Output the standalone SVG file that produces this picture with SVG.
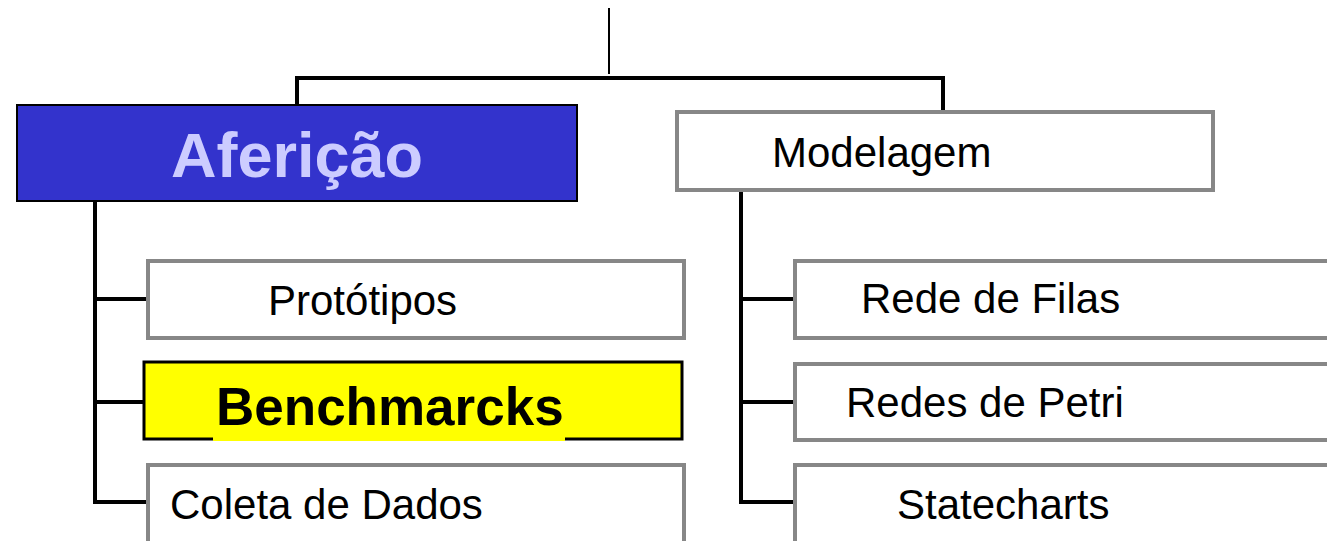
<svg xmlns="http://www.w3.org/2000/svg" width="1327" height="541" viewBox="0 0 1327 541">
<style>
.box{fill:#FFFFFF;stroke:#878787;stroke-width:4}
.t{font-family:"Liberation Sans",Arial,sans-serif;font-size:42px;fill:#000000}
.c{stroke:#000000;stroke-width:4;fill:none;stroke-linecap:square}
</style>
<rect x="0" y="0" width="1327" height="541" fill="#FFFFFF"/>
<g id="connectors">
<line x1="609" y1="8" x2="609" y2="74" stroke="#000" stroke-width="2"/>
<polyline class="c" points="297,104 297,78 943,78 943,111"/>
<polyline class="c" points="95,201 95,502 146,502"/>
<line class="c" x1="95" y1="299" x2="146" y2="299"/>
<line class="c" x1="95" y1="402" x2="143" y2="402"/>
<polyline class="c" points="741,190 741,502 793,502"/>
<line class="c" x1="741" y1="299" x2="793" y2="299"/>
<line class="c" x1="741" y1="402" x2="793" y2="402"/>
</g>
<g id="afericao">
<rect x="17" y="105" width="560" height="96" fill="#3333CC" stroke="#000" stroke-width="2"/>
<text x="297" y="177" text-anchor="middle" font-family="'Liberation Sans',Arial,sans-serif" font-weight="bold" font-size="63" fill="#CCCCFF">Aferição</text>
</g>
<g id="modelagem">
<rect class="box" x="677" y="112" width="536" height="78"/>
<text class="t" x="772" y="167">Modelagem</text>
</g>
<g id="prototipos">
<rect class="box" x="148" y="261" width="536" height="77"/>
<text class="t" x="268" y="315">Protótipos</text>
</g>
<g id="benchmarcks">
<rect x="144" y="362" width="538" height="77" fill="#FFFF00" stroke="#000" stroke-width="3"/>
<rect x="213" y="382" width="352" height="59" fill="#FFFF00"/>
<text x="216" y="425" font-family="'Liberation Sans',Arial,sans-serif" font-weight="bold" font-size="53" fill="#000">Benchmarcks</text>
</g>
<g id="coleta">
<rect class="box" x="148" y="465" width="536" height="100"/>
<text class="t" x="170" y="519">Coleta de Dados</text>
</g>
<g id="rede-filas">
<rect class="box" x="795" y="261" width="545" height="77"/>
<text class="t" x="861" y="313">Rede de Filas</text>
</g>
<g id="redes-petri">
<rect class="box" x="795" y="364" width="545" height="76"/>
<text class="t" x="846" y="417">Redes de Petri</text>
</g>
<g id="statecharts">
<rect class="box" x="795" y="465" width="545" height="100"/>
<text class="t" x="897" y="519">Statecharts</text>
</g>
</svg>
